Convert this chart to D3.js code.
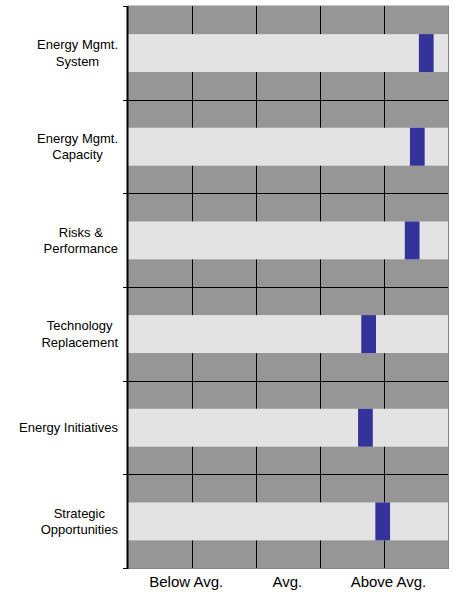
<!DOCTYPE html>
<html>
<head>
<meta charset="utf-8">
<script src="https://cdn.jsdelivr.net/npm/d3@7"></script>
<style>
  html, body { margin: 0; padding: 0; background: #fff; }
  svg { display: block; font-family: "Liberation Sans", Arial, sans-serif; }
</style>
</head>
<body>
<svg id="chart" width="468" height="592"></svg>
<script>
// Assessment areas, top to bottom
const categories = [
  "Energy Mgmt.\nSystem",
  "Energy Mgmt.\nCapacity",
  "Risks &\nPerformance",
  "Technology\nReplacement",
  "Energy Initiatives",
  "Strategic\nOpportunities"
];
// Score of each area on the 0–5 rating scale (marker centre)
const scores = [4.66, 4.52, 4.44, 3.76, 3.71, 3.98];
// Rating bands shown under the axis
const ratingLabels = ["Below Avg.", "Avg.", "Above Avg."];
const ratingPositions = [0.91, 2.49, 4.07];
// Gridline positions on the rating scale
const gridValues = [1, 2, 3, 4];

const markerWidth = 0.23;   // marker width in rating units
const svg = d3.select("#chart");
const margin = { left: 128, right: 20, top: 6, bottom: 24 };
const W = 468, H = 592;

const x = d3.scaleLinear().domain([0, 5]).range([margin.left, W - margin.right]);
const y = d3.scaleBand().domain(categories).range([margin.top, H - margin.bottom]).padding(0);
const bw = y.bandwidth();
const plotTop = y.range()[0], plotBottom = y.range()[1];

// dark plot background
svg.append("rect")
  .attr("x", x(0)).attr("y", plotTop)
  .attr("width", x(5) - x(0)).attr("height", plotBottom - plotTop)
  .attr("fill", "#969696");

// vertical gridlines
svg.append("g").selectAll("line").data(gridValues).join("line")
  .attr("x1", d => x(d) + 0.5).attr("x2", d => x(d) + 0.5)
  .attr("y1", plotTop).attr("y2", plotBottom)
  .attr("stroke", "#000").attr("stroke-width", 1);

// category separators
svg.append("g").selectAll("line").data(categories.slice(1)).join("line")
  .attr("x1", x(0) - 4).attr("x2", x(5))
  .attr("y1", d => Math.round(y(d)) + 0.5).attr("y2", d => Math.round(y(d)) + 0.5)
  .attr("stroke", "#000").attr("stroke-width", 1);

// light tracks for each area
svg.append("g").selectAll("rect").data(categories).join("rect")
  .attr("x", x(0)).attr("width", x(5) - x(0))
  .attr("y", d => y(d) + bw * 0.3).attr("height", bw * 0.405)
  .attr("fill", "#e3e3e3");

// score markers
svg.append("g").selectAll("rect").data(scores).join("rect")
  .attr("x", d => x(d - markerWidth / 2))
  .attr("width", x(markerWidth) - x(0))
  .attr("y", (d, i) => y(categories[i]) + bw * 0.3)
  .attr("height", bw * 0.405)
  .attr("fill", "#333399");

// frame: light top edge, grey right/bottom edges
svg.append("line").attr("x1", x(0)).attr("x2", x(5) + 1)
  .attr("y1", plotTop - 0.5).attr("y2", plotTop - 0.5).attr("stroke", "#c4c4c4");
svg.append("line").attr("x1", x(5) + 0.5).attr("x2", x(5) + 0.5)
  .attr("y1", plotTop).attr("y2", plotBottom + 1).attr("stroke", "#858585");
svg.append("line").attr("x1", x(0)).attr("x2", x(5) + 1)
  .attr("y1", plotBottom + 0.5).attr("y2", plotBottom + 0.5).attr("stroke", "#858585");

// left axis with ticks at category boundaries
svg.append("line").attr("x1", x(0) - 0.5).attr("x2", x(0) - 0.5)
  .attr("y1", plotTop).attr("y2", plotBottom + 1)
  .attr("stroke", "#000").attr("stroke-width", 2);
const bounds = categories.map(c => y(c)).concat([plotBottom]);
svg.append("g").selectAll("line").data(bounds).join("line")
  .attr("x1", x(0) - 5).attr("x2", x(0))
  .attr("y1", d => Math.round(d) + 0.5).attr("y2", d => Math.round(d) + 0.5)
  .attr("stroke", "#000");

// category labels: lines centred on each other, block right-aligned to the axis
const labelRight = x(0) - 10;
const lineGap = 16.5;
categories.forEach(c => {
  const lines = c.split("\n");
  const cy = y(c) + bw / 2;
  const g = svg.append("g");
  const texts = lines.map((ln, k) => g.append("text")
    .attr("text-anchor", "middle")
    .attr("font-size", 13)
    .attr("fill", "#000")
    .attr("y", cy + 4.7 + (k - (lines.length - 1) / 2) * lineGap)
    .text(ln));
  const blockW = d3.max(texts, t => t.node().getComputedTextLength());
  texts.forEach(t => t.attr("x", labelRight - blockW / 2));
});

// rating labels under the plot
svg.append("g").selectAll("text").data(ratingLabels).join("text")
  .attr("x", (d, i) => x(ratingPositions[i]))
  .attr("y", 586.5)
  .attr("text-anchor", "middle")
  .attr("font-size", 15)
  .attr("fill", "#000")
  .text(d => d);
</script>
</body>
</html>
